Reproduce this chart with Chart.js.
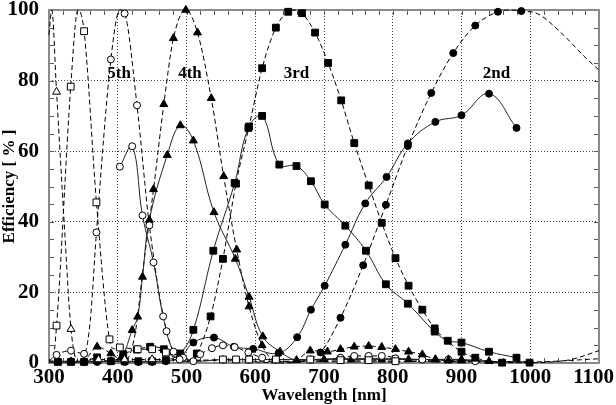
<!DOCTYPE html>
<html>
<head>
<meta charset="utf-8">
<script src="https://cdn.jsdelivr.net/npm/chart.js@4.4.1/dist/chart.umd.min.js"></script>
<style>
  html, body { margin: 0; padding: 0; background: #fff; }
</style>
</head>
<body>
<canvas id="effChart" width="616" height="405"></canvas>
<script>
// tick values
const xTicks = [300, 400, 500, 600, 700, 800, 900, 1000, 1100];
const yTicks = [0, 20, 40, 60, 80, 100];

// order labels
const orderNames = ['5th', '4th', '3rd', '2nd'];
const orderLabelX = [402, 505, 660, 951];
const orderLabelY = [82, 82, 82, 82];

// 2nd order, calculated (markers + extra curve points)
const o2CalcX = [695, 724, 757, 790, 822, 856, 888, 920, 953, 987];
const o2CalcY = [3, 12.8, 27.7, 44.8, 61.5, 76.5, 87.8, 95.6, 99.5, 99.7];
const o2CurveX = [600, 640, 665, 970, 1010, 1044, 1083, 1100];
const o2CurveY = [0.3, 0, 0.5, 100, 99, 93.7, 86, 83];
// 2nd order, measured
const o2MeasX = [313, 332, 351, 370, 390, 410, 430, 450, 470, 491, 510, 540, 569, 597, 634, 661, 681, 701, 731, 760, 791, 822, 862, 900, 940, 980];
const o2MeasY = [0.5, 0.5, 0.3, 0.3, 0.5, 0.3, 0.3, 0.3, 0.5, 1.5, 5.8, 7.2, 4.6, 4, 2.8, 7.3, 15.1, 21.9, 33.5, 45.2, 52.7, 62.2, 68.3, 70.2, 76.3, 66.6];

// 3rd order, calculated
const o3CalcX = [370, 408, 428, 447, 467, 515, 535, 553, 572, 591, 610, 630, 648, 668, 687, 706, 725, 744, 765, 784, 804, 823, 843, 861, 900, 920, 959, 999];
const o3CalcY = [1.6, 2.5, 3.8, 4.6, 3.9, 2.7, 13.2, 29.5, 50.8, 67, 83.5, 95, 99.5, 99.1, 93.6, 85, 74.4, 62.3, 50.3, 39.7, 29.7, 21.9, 15.1, 9.8, 3.2, 1.5, 0.1, 0.1];
const o3CurveX = [300, 330, 350, 390, 485, 500, 658, 1030, 1060, 1100];
const o3CurveY = [0.3, 0.3, 0.3, 0.3, 1, 0.5, 100, 0.3, 1, 3.5];
// 3rd order, measured
const o3MeasX = [313, 332, 351, 390, 410, 430, 450, 470, 491, 510, 539, 570, 590, 610, 635, 660, 681, 701, 731, 761, 790, 822, 861, 880, 900, 940, 980];
const o3MeasY = [0.3, 0.3, 0.3, 0.5, 0.5, 0.5, 0.5, 0.8, 2.7, 9.4, 31.8, 51, 66.6, 70, 56.2, 55.8, 51.5, 44.9, 38.9, 31.8, 22.3, 16.8, 8.9, 6.3, 5.8, 3.2, 1.5];

// 4th order, calculated
const o4CalcX = [370, 390, 452, 467, 481, 499, 516, 536, 554, 573, 591, 610, 680, 705, 724, 744, 765, 784, 804, 823, 843, 862, 881, 900];
const o4CalcY = [4.6, 2.7, 49.2, 73.3, 92, 100, 93.6, 75, 52.9, 32.1, 16, 5, 3.5, 3.2, 3.9, 4.6, 4.8, 4.5, 3.9, 3.2, 2.4, 1, 0.7, 0.7];
const o4CurveX = [300, 340, 355, 410, 425, 437, 630, 650, 665, 940, 1000, 1100];
const o4CurveY = [0.3, 0.3, 1.5, 0.5, 8, 27, 0.5, 0.3, 1.5, 0.5, 0.3, 1.2];
// 4th order, measured
const o4MeasX = [313, 332, 351, 370, 390, 405, 421, 429, 436, 446, 472, 491, 510, 540, 571, 591, 611, 636, 660, 700, 740, 784, 804, 823, 843, 862, 881, 900, 940];
const o4MeasY = [0.3, 0.3, 0.3, 0.5, 0.5, 1.5, 9.3, 13.1, 24.4, 40.5, 58.9, 67.3, 63, 42.7, 29.5, 18.7, 7.5, 3.2, 0.8, 1, 1, 1, 1, 1, 1, 1, 1, 1, 0.5];

// 5th order, calculated
const o5CalcX = [311, 332, 351, 369, 390, 410, 428, 446, 471, 490, 520, 537, 553, 570, 590, 610, 724, 744, 765, 784];
const o5CalcY = [2.3, 3.5, 2.6, 37, 86, 99, 73, 39, 9, 1, 2.5, 4.2, 5, 4.5, 3, 1.5, 1.5, 2, 2, 2];
const o5CurveX = [300, 360, 403, 500, 640, 680, 820, 900, 1000];
const o5CurveY = [0.5, 12, 100, 0.3, 0.5, 0.5, 1, 0.5, 0.3];
// 5th order, measured
const o5MeasX = [403, 421, 436, 452, 466, 481, 495, 510, 553, 591, 630, 680, 724, 765, 804, 843, 881, 920];
const o5MeasY = [55.6, 61.4, 41.8, 28.5, 13.2, 3.2, 1.5, 0.5, 1, 1, 1, 1, 1.3, 1.3, 1.3, 1, 1, 0.5];

// 6th order, calculated
const o6CalcX = [311, 331.6, 351, 369, 388, 403, 429, 450, 470, 553, 572, 591, 630, 680, 724, 765, 804];
const o6CalcY = [10.6, 78.3, 94, 45.5, 6.7, 4.4, 3.9, 3.9, 3, 1, 1, 1, 1, 1, 0.8, 0.8, 0.5];
const o6CurveX = [300, 305, 342, 395, 500, 530, 1000];
const o6CurveY = [1, 0.5, 100, 4, 0.5, 0.8, 0.3];

// 7th order, calculated
const o7CalcX = [311, 332, 372, 410, 450];
const o7CalcY = [76.8, 9.6, 1, 1, 1];
const o7CurveX = [300, 304, 322, 342, 600, 800];
const o7CurveY = [93, 100, 40, 0.5, 0.5, 0.3];

const serif = "'Liberation Serif', 'Times New Roman', serif";
const tickFont = { family: serif, size: 21, weight: 'bold' };
const xTickPad = 2;

function pts(xs, ys) {
  return xs.map((x, i) => ({ x: x, y: ys[i] }));
}
function curve(mx, my, cx, cy) {
  return pts(mx, my).concat(pts(cx, cy)).sort((a, b) => a.x - b.x);
}

const markerSize = { circle: 3.5, rect: 4.8, triangle: 4.6 };

function calcLine(mx, my, cx, cy) {
  return {
    data: curve(mx, my, cx, cy),
    showLine: true,
    borderColor: '#000',
    borderWidth: 1,
    borderDash: [5, 3],
    pointRadius: 0,
    cubicInterpolationMode: 'monotone',
    clip: 6,
    order: 3
  };
}
function calcMarks(xs, ys, style, open) {
  return {
    data: pts(xs, ys),
    showLine: false,
    pointStyle: style,
    pointRadius: markerSize[style],
    pointBackgroundColor: open ? '#fff' : '#000',
    pointBorderColor: '#000',
    pointBorderWidth: 1,
    clip: 6,
    order: 1
  };
}
function measLine(xs, ys, style, open) {
  return {
    data: pts(xs, ys),
    showLine: true,
    tension: 0.4,
    borderColor: '#222',
    borderWidth: 1,
    pointStyle: style,
    pointRadius: markerSize[style],
    pointBackgroundColor: open ? '#fff' : '#000',
    pointBorderColor: '#000',
    pointBorderWidth: 1,
    clip: 6,
    order: 2
  };
}

// inward minor ticks, frame, order labels, last x label kept inside the canvas
const framePlugin = {
  id: 'frame',
  beforeDatasetsDraw(chart) {
    const { ctx, chartArea: a, scales: { x, y } } = chart;
    ctx.save();
    ctx.strokeStyle = '#555';
    ctx.lineWidth = 1;
    ctx.beginPath();
    for (let v = 300; v <= 1100; v += 20) {
      const px = Math.round(x.getPixelForValue(v)) + 0.5;
      ctx.moveTo(px, a.bottom); ctx.lineTo(px, a.bottom - 5);
      ctx.moveTo(px, a.top); ctx.lineTo(px, a.top + 5);
    }
    for (let v = 0; v <= 100; v += 5) {
      const py = Math.round(y.getPixelForValue(v)) + 0.5;
      ctx.moveTo(a.left, py); ctx.lineTo(a.left + 5, py);
      ctx.moveTo(a.right, py); ctx.lineTo(a.right - 5, py);
    }
    ctx.stroke();
    ctx.strokeStyle = '#8a8a8a';
    ctx.lineWidth = 2;
    ctx.strokeRect(a.left, a.top, a.right - a.left, a.bottom - a.top);
    ctx.restore();
  },
  afterDatasetsDraw(chart) {
    const { ctx, chartArea: a, scales: { x, y } } = chart;
    ctx.save();
    ctx.fillStyle = '#000';
    ctx.font = 'bold 17px ' + serif;
    ctx.textAlign = 'center';
    ctx.textBaseline = 'middle';
    orderNames.forEach((t, i) => {
      ctx.fillText(t, x.getPixelForValue(orderLabelX[i]), y.getPixelForValue(orderLabelY[i]));
    });
    ctx.font = 'bold ' + tickFont.size + 'px ' + serif;
    ctx.textAlign = 'right';
    ctx.fillText(String(xTicks[xTicks.length - 1]), chart.width - 2, a.bottom + xTickPad + tickFont.size * 0.6);
    ctx.restore();
  }
};

new Chart(document.getElementById('effChart'), {
  type: 'scatter',
  data: {
    datasets: [
      calcLine(o7CalcX, o7CalcY, o7CurveX, o7CurveY),
      calcLine(o6CalcX, o6CalcY, o6CurveX, o6CurveY),
      calcLine(o5CalcX, o5CalcY, o5CurveX, o5CurveY),
      calcLine(o4CalcX, o4CalcY, o4CurveX, o4CurveY),
      calcLine(o3CalcX, o3CalcY, o3CurveX, o3CurveY),
      calcLine(o2CalcX, o2CalcY, o2CurveX, o2CurveY),
      measLine(o5MeasX, o5MeasY, 'circle', true),
      measLine(o4MeasX, o4MeasY, 'triangle', false),
      measLine(o3MeasX, o3MeasY, 'rect', false),
      measLine(o2MeasX, o2MeasY, 'circle', false),
      calcMarks(o7CalcX, o7CalcY, 'triangle', true),
      calcMarks(o6CalcX, o6CalcY, 'rect', true),
      calcMarks(o5CalcX, o5CalcY, 'circle', true),
      calcMarks(o4CalcX, o4CalcY, 'triangle', false),
      calcMarks(o3CalcX, o3CalcY, 'rect', false),
      calcMarks(o2CalcX, o2CalcY, 'circle', false)
    ]
  },
  options: {
    responsive: false,
    animation: false,
    layout: { padding: { top: 10, right: 17, left: 0, bottom: 0 } },
    plugins: { legend: { display: false }, tooltip: { enabled: false } },
    scales: {
      x: {
        type: 'linear',
        min: 300,
        max: 1100,
        afterBuildTicks(s) { s.ticks = xTicks.map(v => ({ value: v })); },
        ticks: {
          color: '#000',
          font: tickFont,
          padding: xTickPad,
          maxRotation: 0,
          autoSkip: false,
          callback: v => (v === xTicks[xTicks.length - 1] ? '' : String(v))
        },
        grid: { color: '#444', lineWidth: 1, drawTicks: false },
        border: { display: false, dash: [1, 2] },
        title: {
          display: true,
          text: 'Wavelength [nm]',
          color: '#000',
          font: { family: serif, size: 17, weight: 'bold', lineHeight: 1 },
          padding: { top: 0, bottom: 1 }
        },
        afterFit(s) { s.height = 42; s.paddingLeft = 0; s.paddingRight = 0; }
      },
      y: {
        min: 0,
        max: 100,
        afterBuildTicks(s) { s.ticks = yTicks.map(v => ({ value: v })); },
        ticks: {
          color: '#000',
          font: tickFont,
          padding: 10,
          callback: v => String(v)
        },
        grid: { color: '#444', lineWidth: 1, drawTicks: false },
        border: { display: false, dash: [1, 2] },
        title: {
          display: true,
          text: 'Efficiency [ % ]',
          color: '#000',
          font: { family: serif, size: 17, weight: 'bold', lineHeight: 1 },
          padding: { top: 1, bottom: 0 }
        },
        afterFit(s) { s.width = 49; s.paddingTop = 0; s.paddingBottom = 0; }
      }
    }
  },
  plugins: [framePlugin]
});
</script>
</body>
</html>
